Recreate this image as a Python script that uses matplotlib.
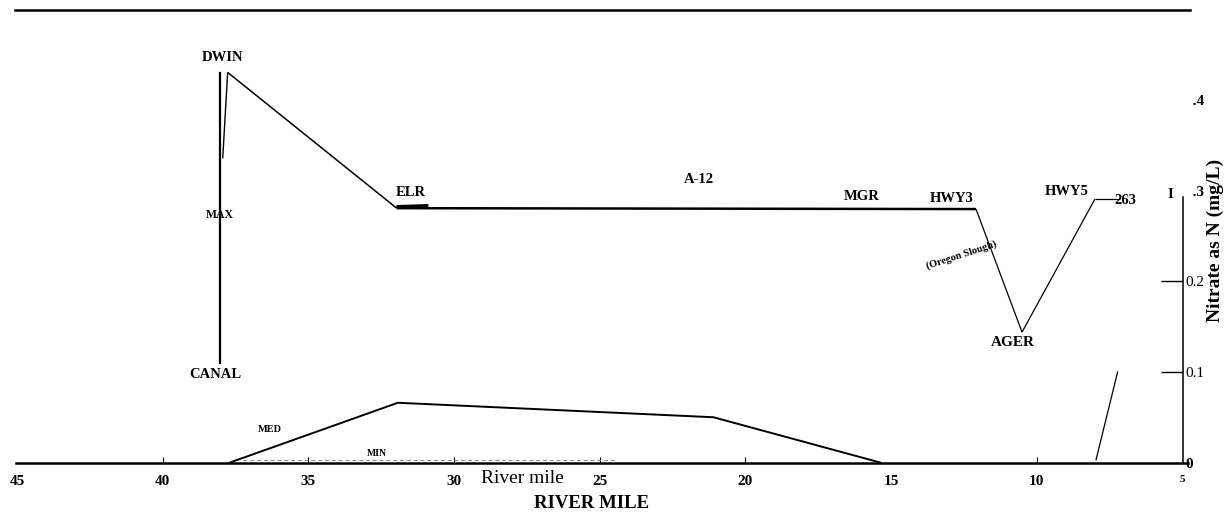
import matplotlib.pyplot as plt
from matplotlib.collections import LineCollection

plt.rcParams["font.family"] = ["Liberation Serif", "DejaVu Serif"]

# river mile / nitrate (mg/L)
canal_mile = [38.03, 38.03]
canal_no3 = [0.430, 0.110]
max_mile = [37.94, 37.77, 31.97, 12.09, 10.51, 8.01, 7.15]
max_no3 = [0.336, 0.431, 0.281, 0.280, 0.144, 0.291, 0.291]
max_width = [1.0, 1.1, 1.8, 0.9, 0.9, 0.9]
elr_mile = [31.93, 30.93]
elr_no3 = [0.283, 0.284]
med_mile = [37.69, 31.93, 21.1, 15.38]
med_no3 = [0.0, 0.066, 0.050, 0.0]
min_mile = [37.24, 24.4]
min_no3 = [0.003, 0.003]
site263_mile = [7.97, 7.23]
site263_no3 = [0.003, 0.100]

x_ticks = [45, 40, 35, 30, 25, 20, 15, 10, 5]
x_marks = [40, 35, 30, 25, 20, 10]
y_ticks = [0, 0.1, 0.2, 0.3, 0.4]
y_labels = ["0", "0.1", "0.2", "  .3", "  .4"]
y_bold = [True, False, False, True, True]
y_marks = [0.1, 0.2]

# station labels: text, mile, value, size, rotation
stations = [
    ("DWIN", 37.96, 0.448, 10.5, 0),
    ("MAX", 38.03, 0.273, 8.5, 0),
    ("CANAL", 38.2, 0.097, 10.5, 0),
    ("ELR", 31.5, 0.298, 10.5, 0),
    ("A-12", 21.6, 0.313, 10.5, 0),
    ("MGR", 16.0, 0.294, 10.5, 0),
    ("HWY3", 12.91, 0.292, 10.5, 0),
    ("HWY5", 8.97, 0.299, 10.5, 0),
    ("263", 6.98, 0.289, 10.5, 0),
    ("I", 5.43, 0.296, 10.5, 0),
    ("(Oregon Slough)", 12.6, 0.229, 7.5, 18),
    ("AGER", 10.82, 0.133, 11, 0),
    ("MED", 36.32, 0.037, 7.5, 0),
    ("MIN", 32.65, 0.010, 7, 0),
]

fig = plt.figure(figsize=(12.24, 5.14), dpi=100)
ax = fig.add_axes([0, 0, 1, 1])
ax.set_xlim(45.583, 3.579)
ax.set_ylim(-0.0569, 0.511)

ax.plot(canal_mile, canal_no3, color="black", lw=1.6)
segs = [[(max_mile[i], max_no3[i]), (max_mile[i + 1], max_no3[i + 1])]
        for i in range(len(max_mile) - 1)]
ax.add_collection(LineCollection(segs, colors="black", linewidths=max_width))
ax.plot(elr_mile, elr_no3, color="black", lw=2)
ax.plot(med_mile, med_no3, color="black", lw=1.4)
ax.plot(min_mile, min_no3, color="#8a8a8a", lw=0.7, dashes=(4, 3))
ax.plot(site263_mile, site263_no3, color="black", lw=0.9)

for txt, m, v, fs, rot in stations:
    ax.text(m, v, txt, fontsize=fs, fontweight="bold", rotation=rot,
            ha="center", va="center")

ax.text(27.67, -0.018, "River mile", fontsize=14, ha="center", va="center")

# top rule of the page
ax.axhline(0.5, xmin=0.012, xmax=0.972, color="black", lw=1.8)

for s in ("left", "top"):
    ax.spines[s].set_visible(False)
ax.spines["bottom"].set_position(("data", 0))
ax.spines["bottom"].set_bounds(45.03, 4.83)
ax.spines["bottom"].set_linewidth(1.8)
ax.spines["right"].set_position(("data", 5))
ax.spines["right"].set_bounds(0, 0.293)
ax.spines["right"].set_linewidth(1.1)

ax.xaxis.remove_overlapping_locs = False
ax.yaxis.remove_overlapping_locs = False

ax.set_xticks(x_ticks)
ax.set_xticklabels([str(t) for t in x_ticks], fontsize=11, fontweight="bold")
ax.set_xticks(x_marks, minor=True)
ax.tick_params(axis="x", which="major", length=0, pad=9)
ax.tick_params(axis="x", which="minor", direction="in", length=4, width=0.8)
ax.get_xticklabels()[-1].set_fontsize(8)

ax.yaxis.tick_right()
ax.set_yticks(y_ticks)
ax.set_yticklabels(y_labels, fontsize=11)
for lab, b in zip(ax.get_yticklabels(), y_bold):
    lab.set_fontweight("bold" if b else "normal")
ax.set_yticks(y_marks, minor=True)
ax.tick_params(axis="y", which="major", length=0, pad=2)
ax.tick_params(axis="y", which="minor", direction="in", length=16, width=1)

ax.set_xlabel("RIVER MILE", fontsize=13.5, fontweight="bold")
ax.xaxis.set_label_coords(0.4837, 0.0214)
ax.set_ylabel("Nitrate as N (mg/L)", fontsize=14, fontweight="bold")
ax.yaxis.set_label_position("right")
ax.yaxis.set_label_coords(0.9926, 0.533)
ax.yaxis.label.set_va("center")
ax.xaxis.label.set_va("center")

fig.savefig("out.png", dpi=100, facecolor="white")
